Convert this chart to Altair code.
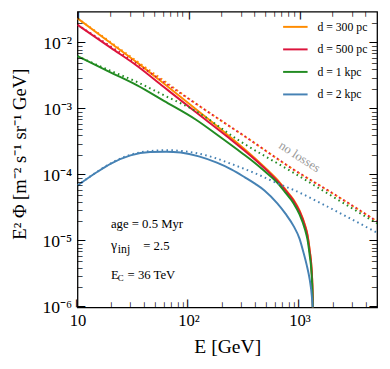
import altair as alt
import pandas as pd

# ---------------- data ----------------
labels = ["d = 300 pc", "d = 500 pc", "d = 1 kpc", "d = 2 kpc"]
colors = ["#ff8c00", "#dc143c", "#228b22", "#4682b4"]

# solid curves (with energy losses)
E_300 = [10, 20, 34.5, 60, 116, 221, 394, 515, 650, 750, 885, 1000, 1124, 1180, 1237, 1280, 1310, 1332]
F_300 = [2.38e-2, 1.0e-2, 5.08e-3, 2.45e-3, 1.01e-3, 4.2e-4, 1.83e-4, 1.2e-4, 8.1e-5, 6.05e-5,
         4.25e-5, 2.95e-5, 1.74e-5, 1.26e-5, 7.2e-6, 4.2e-6, 1.85e-6, 4e-7]
E_500 = [10, 20, 34.5, 60, 116, 221, 394, 515, 650, 750, 885, 1000, 1124, 1180, 1237, 1280, 1310, 1332]
F_500 = [1.9e-2, 8.5e-3, 4.53e-3, 2.17e-3, 9.06e-4, 3.9e-4, 1.75e-4, 1.16e-4, 7.8e-5, 5.86e-5,
         4.1e-5, 2.84e-5, 1.68e-5, 1.22e-5, 7.0e-6, 4.1e-6, 1.8e-6, 4e-7]
E_1k = [10, 20, 34.5, 60, 116, 193, 300, 394, 483, 650, 750, 885, 1000, 1124, 1180, 1237, 1280, 1310, 1330]
F_1k = [6.35e-3, 3.6e-3, 2.3e-3, 1.34e-3, 7.0e-4, 3.8e-4, 2.2e-4, 1.55e-4, 1.16e-4, 7.3e-5,
        5.4e-5, 3.75e-5, 2.55e-5, 1.48e-5, 1.06e-5, 6.0e-6, 3.5e-6, 1.5e-6, 4e-7]
E_2k = [10, 15, 20, 30, 45, 63, 85, 124, 180, 245, 322, 400, 483, 631, 750, 885, 1000, 1083,
        1160, 1237, 1290, 1320, 1335]
F_2k = [7.0e-5, 1.12e-4, 1.5e-4, 2.0e-4, 2.25e-4, 2.28e-4, 2.21e-4, 1.93e-4, 1.55e-4, 1.22e-4,
        9.3e-5, 7.4e-5, 5.9e-5, 3.75e-5, 2.6e-5, 1.7e-5, 1.1e-5, 6.9e-6, 4.4e-6, 2.6e-6,
        1.5e-6, 8e-7, 1e-7]

# dotted curves (no losses)
En_300 = [10, 20, 34.5, 60, 95, 200, 300, 885, 2000, 5000]
Fn_300 = [2.38e-2, 1.03e-2, 5.3e-3, 2.71e-3, 1.55e-3, 6.6e-4, 4.2e-4, 1.22e-4, 5.3e-5, 2.0e-5]
En_500 = [10, 20, 34.5, 60, 95, 200, 300, 885, 2000, 5000]
Fn_500 = [1.9e-2, 8.9e-3, 4.85e-3, 2.6e-3, 1.53e-3, 6.6e-4, 4.2e-4, 1.22e-4, 5.3e-5, 2.0e-5]
En_1k = [10, 20, 34.5, 60, 116, 290, 885, 2000, 5000]
Fn_1k = [6.35e-3, 3.8e-3, 2.58e-3, 1.63e-3, 9.4e-4, 3.3e-4, 1.09e-4, 4.74e-5, 1.86e-5]
En_2k = [10, 15, 20, 30, 45, 65, 90, 116, 170, 245, 400, 676, 885, 1500, 2500, 5000]
Fn_2k = [7.0e-5, 1.13e-4, 1.52e-4, 2.05e-4, 2.33e-4, 2.4e-4, 2.32e-4, 2.18e-4, 1.85e-4, 1.48e-4,
         1.07e-4, 7.2e-5, 6.0e-5, 3.9e-5, 2.5e-5, 1.35e-5]

x_major = [10, 100, 1000]
x_minor = [20, 30, 40, 50, 60, 70, 80, 90, 200, 300, 400, 500, 600, 700, 800, 900, 2000, 3000, 4000]
y_major = [1e-6, 1e-5, 1e-4, 1e-3, 1e-2]
y_minor = [k * 10.0 ** n for n in range(-6, -2) for k in range(2, 10)] + [2e-2]

x_domain = [10, 5000]
y_domain = [1e-6, 3e-2]

W, H = 306, 302
FONT = "Liberation Serif"


def long(series):
    rows = []
    for lab, Es, Fs in series:
        for e, f in zip(Es, Fs):
            rows.append({"E": e, "F": f, "d": lab})
    return pd.DataFrame(rows)


solid_df = long([(labels[0], E_300, F_300), (labels[1], E_500, F_500),
                 (labels[2], E_1k, F_1k), (labels[3], E_2k, F_2k)])
dotted_df = long([(labels[0], En_300, Fn_300), (labels[1], En_500, Fn_500),
                  (labels[2], En_1k, Fn_1k), (labels[3], En_2k, Fn_2k)])

xscale = alt.Scale(type="log", domain=x_domain, nice=False)
yscale = alt.Scale(type="log", domain=y_domain, nice=False)

xaxis = alt.Axis(values=x_major, ticks=False, domain=False, grid=False, labelFlush=False,
                 labelExpr="datum.value < 50 ? '10' : datum.value < 500 ? '10²' : '10³'",
                 labelFont=FONT, labelFontSize=17, labelColor="black", labelPadding=6,
                 title="E [GeV]", titleFont=FONT, titleFontSize=20, titleFontWeight="normal",
                 titleColor="black", titlePadding=8)
yaxis = alt.Axis(values=y_major, ticks=False, domain=False, grid=False, labelFlush=False,
                 labelExpr="datum.value < 2e-6 ? '10⁻⁶' : datum.value < 2e-5 ? '10⁻⁵' : "
                           "datum.value < 2e-4 ? '10⁻⁴' : datum.value < 2e-3 ? '10⁻³' : '10⁻²'",
                 labelFont=FONT, labelFontSize=18, labelColor="black", labelPadding=6,
                 title="E² Φ [m⁻² s⁻¹ sr⁻¹ GeV]", titleFont=FONT, titleFontSize=19,
                 titleFontWeight="normal", titleColor="black",
                 titleX=-59, titleY=H / 2 - 6, titleAngle=270,
                 titleAlign="center", titleBaseline="middle")

X = alt.X("E:Q", scale=xscale, axis=xaxis)
Y = alt.Y("F:Q", scale=yscale, axis=yaxis)
cscale = alt.Scale(domain=labels, range=colors)

solid = alt.Chart(solid_df).mark_line(strokeWidth=2, clip=True, interpolate="monotone").encode(
    x=X, y=Y,
    color=alt.Color("d:N", scale=cscale,
                    legend=alt.Legend(title=None, orient="none", legendX=209, legendY=2,
                                      symbolType="stroke", symbolSize=625, symbolStrokeWidth=2,
                                      labelFont=FONT, labelFontSize=12, labelColor="black",
                                      labelOffset=9, rowPadding=3, padding=0)))
dotted = alt.Chart(dotted_df).mark_line(strokeWidth=2, strokeDash=[1.6, 3.4], clip=True,
                                        interpolate="monotone").encode(
    x=X, y=Y, color=alt.Color("d:N", scale=cscale, legend=None))

# inward ticks on all four sides, drawn as box-drawing line glyphs placed through the scales
TICK_FONT = "DejaVu Sans Mono"
GLYPH = "─"


def tick_text(df, size, angle, align):
    df = df.assign(t=GLYPH)
    return alt.Chart(df).mark_text(font=TICK_FONT, fontSize=size, angle=angle, align=align,
                                   baseline="middle", color="black").encode(x=X, y=Y, text="t:N")


def xticks(vals, size):
    bottom = pd.DataFrame({"E": vals, "F": [y_domain[0]] * len(vals)})
    top = pd.DataFrame({"E": vals, "F": [y_domain[1]] * len(vals)})
    return [tick_text(bottom, size, 270, "left"), tick_text(top, size, 90, "left")]


def yticks(vals, size):
    left = pd.DataFrame({"E": [x_domain[0]] * len(vals), "F": vals})
    right = pd.DataFrame({"E": [x_domain[1]] * len(vals), "F": vals})
    return [tick_text(left, size, 0, "left"), tick_text(right, size, 0, "right")]


ticks = xticks(x_major, 13) + xticks(x_minor, 8.5) + yticks(y_major, 13) + yticks(y_minor, 8.5)


# annotations
def txt(E, F, s, size=13, dx=0, dy=0, color_="black", angle=0, align="left"):
    return alt.Chart(pd.DataFrame({"E": [E], "F": [F], "t": [s]})).mark_text(
        font=FONT, fontSize=size, align=align, baseline="middle", dx=dx, dy=dy,
        color=color_, angle=angle).encode(x=X, y=Y, text="t:N")


notes = [
    txt(20, 1.8e-5, "age = 0.5 Myr"),
    txt(20, 8.6e-6, "γ", size=14),
    txt(20, 8.6e-6, "inj", size=12, dx=7, dy=4),
    txt(20, 8.6e-6, "= 2.5", dx=33),
    txt(20, 3.1e-6, "E"),
    txt(20, 3.1e-6, "C", size=9, dx=7, dy=3),
    txt(20, 3.1e-6, "= 36 TeV", dx=17),
    txt(1000, 1.9e-4, "no losses", size=13, color_="#999999", angle=33, align="center"),
]

chart = alt.layer(solid, dotted, *ticks, *notes).resolve_scale(color="independent").properties(
    width=W, height=H,
    autosize=alt.AutoSizeParams(type="none"),
    padding={"left": 71, "top": 0, "right": 5, "bottom": 51},
    background="white",
).configure_view(stroke="black", strokeWidth=1.3)

chart.save("out.html", embed_options={"renderer": "svg", "actions": False})
